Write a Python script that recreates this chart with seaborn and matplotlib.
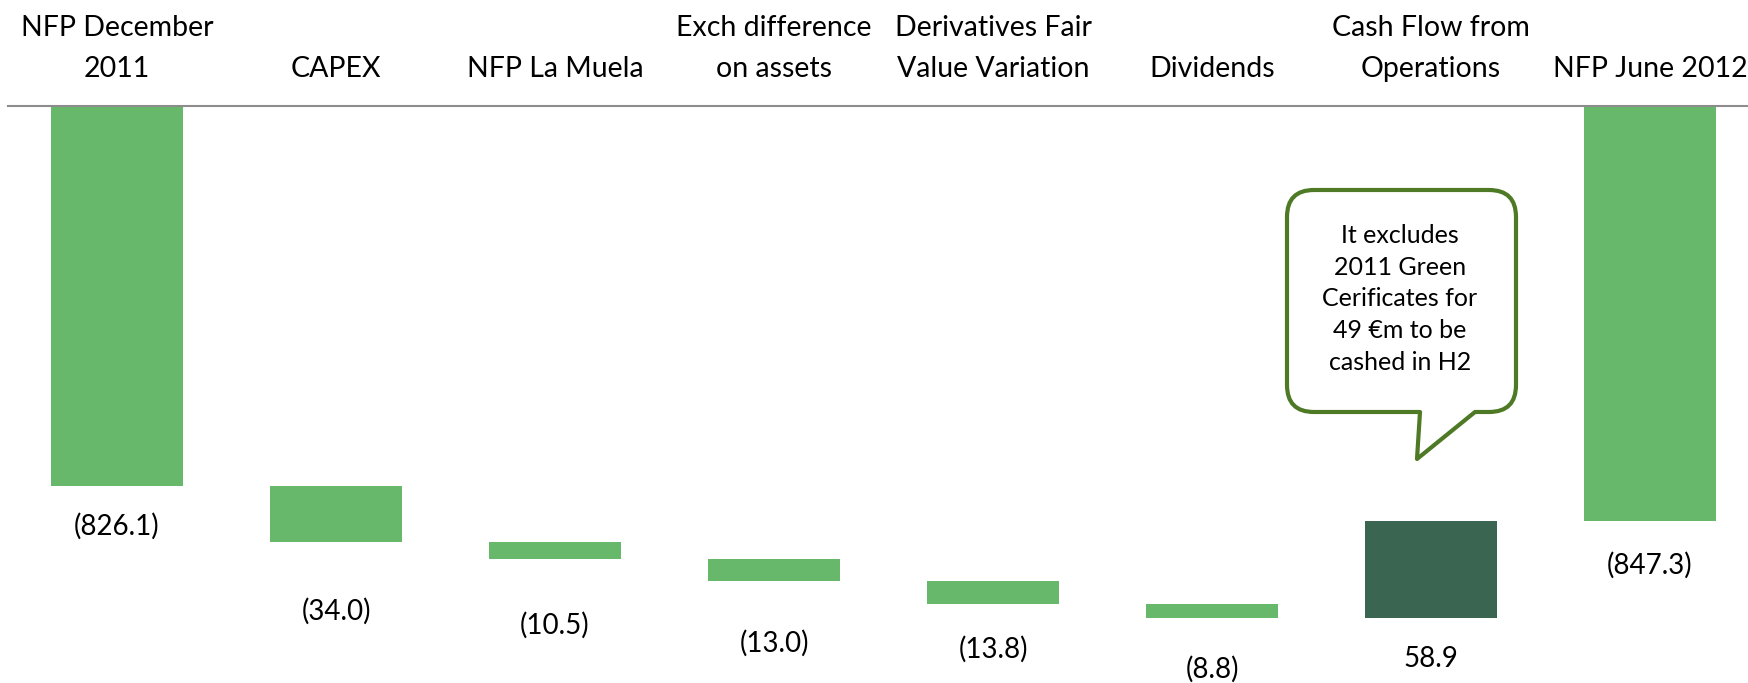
import numpy as np
import matplotlib
matplotlib.use("Agg")
import matplotlib.pyplot as plt
from matplotlib.path import Path
from matplotlib.patches import PathPatch
from matplotlib.transforms import Affine2D, IdentityTransform
import seaborn as sns

# NFP bridge Dec 2011 -> Jun 2012 (EUR m, debt shown as negative)
categories = ["NFP December\n2011", "CAPEX", "NFP La Muela", "Exch difference\non assets",
              "Derivatives Fair\nValue Variation", "Dividends", "Cash Flow from\nOperations",
              "NFP June 2012"]
changes = [-826.1, -34.0, -10.5, -13.0, -13.8, -8.8, 58.9, -847.3]
is_total = [True, False, False, False, False, False, False, True]
value_labels = ["(826.1)", "(34.0)", "(10.5)", "(13.0)", "(13.8)", "(8.8)", "58.9", "(847.3)"]
note = "It excludes\n2011 Green\nCerificates for\n49 €m to be\ncashed in H2"

# label distance below each bar, pixels
label_gap = [40, 69, 66, 62, 46, 51, 41, 44]

light = "#67b86b"
dark = "#3a6551"
olive = "#4f7a25"

sns.set_theme(style="white")
plt.rcParams['font.family'] = ['Lato', 'DejaVu Sans']

# waterfall bases
bottoms = []
running = 0.0
for v, tot in zip(changes, is_total):
    if tot:
        bottoms.append(0.0)
        running = v
    else:
        bottoms.append(running)
        running += v

W, H = 1748, 683
fig = plt.figure(figsize=(W / 100, H / 100), dpi=100)
left_px, top_px = 7.5, 106
ax = fig.add_axes([left_px / W, 0, 1 - left_px / W, (H - top_px) / H])

sns.barplot(x=categories, y=changes, bottom=bottoms, color=light, saturation=1,
            width=0.6, errorbar=None, linewidth=0, ax=ax)
ax.patches[6].set_facecolor(dark)

ax.set_xlim(-0.5, -0.5 + (W - left_px) / 219)
ax.set_ylim(-945.6, -595.5)
ax.set_xlabel("")
ax.set_ylabel("")
ax.set_xticks([])
ax.set_yticks([])
for s in ["left", "right", "bottom"]:
    ax.spines[s].set_visible(False)
ax.spines["top"].set_color("#8c8c8c")
ax.spines["top"].set_linewidth(1.5)

# value labels under bars
for i, (b, v) in enumerate(zip(bottoms, changes)):
    low = min(b, b + v)
    ax.annotate(value_labels[i], (i, low), xytext=(0, -label_gap[i]),
                textcoords="offset pixels", ha="center", va="center",
                fontsize=20, color="black", annotation_clip=False)

# category labels above the axis line
for i, c in enumerate(categories):
    ax.annotate(c, (i, 1), xycoords=("data", "axes fraction"), xytext=(0, 24),
                textcoords="offset pixels", ha="center", va="bottom",
                fontsize=20.5, color="black", linespacing=1.72, annotation_clip=False)

# speech bubble pointing at the cash flow bar
top6 = max(bottoms[6], bottoms[6] + changes[6])
ax_, ay_ = ax.transData.transform((6, top6))
tip_x, tip_y = ax_ - 14, ay_ + 62
L, R, T, B, r = -130, 99, 269, 47, 27
verts = [(3, B), (0, 0), (58, B), (R - r, B), (R, B), (R, B + r), (R, T - r),
         (R, T), (R - r, T), (L + r, T), (L, T), (L, T - r), (L, B + r),
         (L, B), (L + r, B), (3, B), (3, B)]
codes = [Path.MOVETO, Path.LINETO, Path.LINETO, Path.LINETO, Path.CURVE3, Path.CURVE3,
         Path.LINETO, Path.CURVE3, Path.CURVE3, Path.LINETO, Path.CURVE3, Path.CURVE3,
         Path.LINETO, Path.CURVE3, Path.CURVE3, Path.LINETO, Path.CLOSEPOLY]
bubble = PathPatch(Path(verts, codes), facecolor="white", edgecolor=olive, linewidth=3,
                   joinstyle="round", transform=Affine2D().translate(tip_x, tip_y))
fig.add_artist(bubble)
fig.text(tip_x - 17, tip_y + (T + B) / 2 + 2, note, transform=IdentityTransform(),
         ha="center", va="center", fontsize=18, linespacing=1.45, color="black")

fig.savefig("out.png", dpi=100)
